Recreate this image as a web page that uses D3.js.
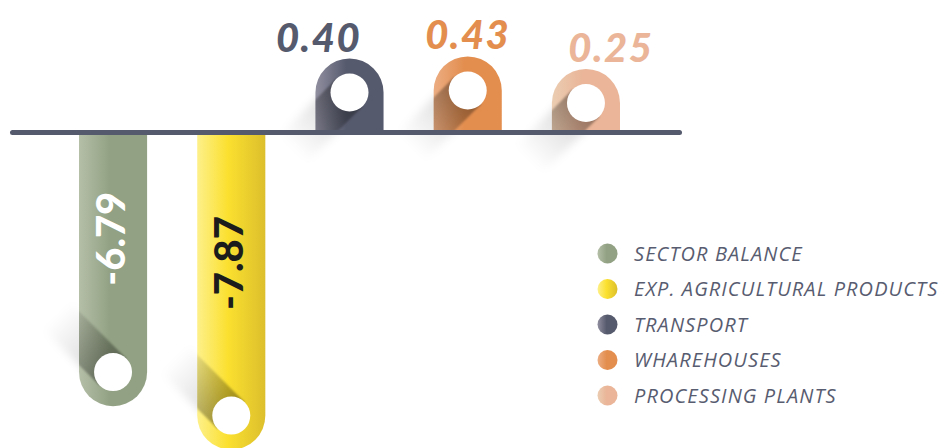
<!DOCTYPE html>
<html>
<head>
<meta charset="utf-8">
<script src="https://cdn.jsdelivr.net/npm/d3@7"></script>
<style>
  html, body { margin: 0; padding: 0; background: #ffffff; }
  svg { display: block; }
</style>
</head>
<body>
<svg id="chart" width="940" height="448"></svg>
<script>
// ---------- data ----------
const categories = ["SECTOR BALANCE", "EXP. AGRICULTURAL PRODUCTS", "TRANSPORT", "WHAREHOUSES", "PROCESSING PLANTS"];
const values = [-6.79, -7.87, 0.40, 0.43, 0.25];
const valueLabels = ["-6.79", "-7.87", "0.40", "0.43", "0.25"];

// ---------- styles ----------
const baseColors  = ["#92a183", "#fbe02f", "#565a6d", "#e38e4f", "#eab598"];
const lightColors = ["#b5bfa8", "#fdf08a", "#908fa0", "#ecad82", "#ebcdb2"];
const endColors   = ["#92a183", "#dcbf2c", "#565a6d", "#e38e4f", "#eab598"];
const negLabelColors = ["#ffffff", "#1c1c1c"];
const posLabelDx = [0, 0, -31, 0, 25];

const y0 = 132.5;
const svg = d3.select("#chart");
const defs = svg.append("defs");

// ---------- scales ----------
const x = d3.scaleBand().domain(categories).range([79, 620]).paddingInner(0.424).paddingOuter(0);
const yNeg = d3.scaleLinear().domain([0, -8]).range([y0, y0 + 8 * 40.3]);
const hPos = d3.scaleLinear().domain([0, 0.5]).range([46, 81]);
const bw = x.bandwidth();
const r = bw / 2;
const holeR = 19;

// gradients
categories.forEach((c, i) => {
  const g = defs.append("linearGradient").attr("id", "g" + i)
    .attr("x1", "0").attr("x2", "1").attr("y1", "0").attr("y2", "0");
  g.append("stop").attr("offset", "0").attr("stop-color", lightColors[i]);
  g.append("stop").attr("offset", "0.45").attr("stop-color", baseColors[i]);
  g.append("stop").attr("offset", "1").attr("stop-color", endColors[i]);
});
defs.append("filter").attr("id", "blurOut").attr("x", "-50%").attr("y", "-50%").attr("width", "200%").attr("height", "200%")
  .append("feGaussianBlur").attr("stdDeviation", 4);
defs.append("filter").attr("id", "blurIn").attr("x", "-50%").attr("y", "-50%").attr("width", "200%").attr("height", "200%")
  .append("feGaussianBlur").attr("stdDeviation", 1.2);
defs.append("filter").attr("id", "blurLine").attr("x", "-10%").attr("y", "-200%").attr("width", "120%").attr("height", "500%")
  .append("feGaussianBlur").attr("stdDeviation", 4);

// geometry helpers
function geom(v, i) {
  const cx = x(categories[i]) + r;
  const x0 = x(categories[i]), x1 = x0 + bw;
  if (v < 0) {
    const yb = yNeg(v);
    return {cx, x0, x1, hy: yb - r, path: `M${x0},${y0} L${x1},${y0} L${x1},${yb - r} A${r},${r} 0 0 1 ${x0},${yb - r} Z`, dir: -1};
  } else {
    const yt = y0 - hPos(v);
    return {cx, x0, x1, hy: yt + r, top: yt, path: `M${x0},${y0} L${x0},${yt + r} A${r},${r} 0 0 1 ${x1},${yt + r} L${x1},${y0} Z`, dir: 1};
  }
}
function shadowPts(g, L) {
  const s = Math.SQRT1_2;
  const d = [-s, g.dir * s];
  const n = [d[1], -d[0]];
  const c = [g.cx, g.hy];
  const p1 = [c[0] + n[0] * holeR, c[1] + n[1] * holeR];
  const p2 = [c[0] - n[0] * holeR, c[1] - n[1] * holeR];
  const p3 = [p2[0] + d[0] * L, p2[1] + d[1] * L];
  const p4 = [p1[0] + d[0] * L, p1[1] + d[1] * L];
  return {pts: [p1, p2, p3, p4], c, e: [c[0] + d[0] * L, c[1] + d[1] * L]};
}

// line shadow
svg.append("line").attr("x1", 40).attr("x2", 680).attr("y1", y0 - 1).attr("y2", y0 - 1)
  .attr("stroke", "#000").attr("stroke-opacity", 0.10).attr("stroke-width", 8).attr("filter", "url(#blurLine)");

const geoms = values.map((v, i) => geom(v, i));

// outer (cast on background) shadows
geoms.forEach((g, i) => {
  const s = shadowPts(g, 80);
  const gid = "so" + i;
  const lg = defs.append("linearGradient").attr("id", gid).attr("gradientUnits", "userSpaceOnUse")
    .attr("x1", s.c[0]).attr("y1", s.c[1]).attr("x2", s.e[0]).attr("y2", s.e[1]);
  lg.append("stop").attr("offset", "0").attr("stop-color", "#000").attr("stop-opacity", 0.18);
  lg.append("stop").attr("offset", "1").attr("stop-color", "#000").attr("stop-opacity", 0);
  svg.append("polygon").attr("points", s.pts.map(p => p.join(",")).join(" "))
    .attr("fill", `url(#${gid})`).attr("filter", "url(#blurOut)");
});

// bars
const bars = svg.append("g");
geoms.forEach((g, i) => {
  bars.append("path").attr("d", g.path).attr("fill", `url(#g${i})`);
  const cp = defs.append("clipPath").attr("id", "cp" + i);
  cp.append("path").attr("d", g.path);
  const s = shadowPts(g, 88);
  const gid = "si" + i;
  const lg = defs.append("linearGradient").attr("id", gid).attr("gradientUnits", "userSpaceOnUse")
    .attr("x1", s.c[0]).attr("y1", s.c[1]).attr("x2", s.e[0]).attr("y2", s.e[1]);
  lg.append("stop").attr("offset", "0").attr("stop-color", "#000").attr("stop-opacity", 0.38);
  lg.append("stop").attr("offset", "1").attr("stop-color", "#000").attr("stop-opacity", 0);
  bars.append("g").attr("clip-path", `url(#cp${i})`)
    .append("polygon").attr("points", s.pts.map(p => p.join(",")).join(" "))
    .attr("fill", `url(#${gid})`).attr("filter", "url(#blurIn)");
  bars.append("circle").attr("cx", g.cx).attr("cy", g.hy).attr("r", holeR).attr("fill", "#ffffff");
});

// baseline
svg.append("line").attr("x1", 12.5).attr("x2", 679.5).attr("y1", y0).attr("y2", y0)
  .attr("stroke", "#565a6d").attr("stroke-width", 5).attr("stroke-linecap", "round");

// value labels
values.forEach((v, i) => {
  const g = geoms[i];
  if (v < 0) {
    const ly = yNeg(v * 0.56);
    svg.append("text")
      .attr("transform", `translate(${g.cx + 12},${ly}) rotate(-90)`)
      .attr("text-anchor", "start")
      .attr("font-family", "Lato, 'Open Sans', sans-serif")
      .attr("font-weight", 900).attr("font-size", 40)
      .attr("fill", negLabelColors[i])
      .text(valueLabels[i]);
  } else {
    svg.append("text")
      .attr("x", g.cx + posLabelDx[i]).attr("y", g.top - 7)
      .attr("text-anchor", "middle")
      .attr("font-family", "Lato, 'Open Sans', sans-serif")
      .attr("font-weight", 900).attr("font-style", "italic").attr("font-size", 40)
      .attr("letter-spacing", 1.5)
      .attr("fill", baseColors[i])
      .text(valueLabels[i]);
  }
});

// legend
const legend = svg.append("g");
categories.forEach((c, i) => {
  const cy = 253.5 + i * 35.5;
  legend.append("circle").attr("cx", 607.5).attr("cy", cy).attr("r", 10).attr("fill", `url(#g${i})`);
  legend.append("text").attr("x", 634).attr("y", cy + 7)
    .attr("font-family", "'Open Sans', Lato, sans-serif")
    .attr("font-style", "italic").attr("font-size", 20).attr("letter-spacing", 1.1)
    .attr("fill", "#585c70")
    .text(c);
});
</script>
</body>
</html>
